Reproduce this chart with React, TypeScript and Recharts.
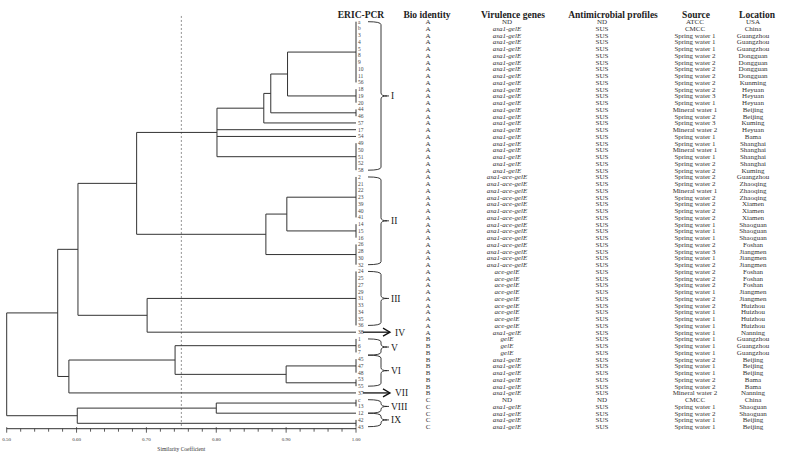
import { ScatterChart, Scatter, XAxis, YAxis, ReferenceLine, ReferenceArea } from 'recharts';

const FONT = 'Liberation Serif';

// leaf labels, top to bottom
const leafLabels = [
  'a', 'b', '3', '4', '5', '8', '9', '10', '11', '56', '18', '19', '20', '44', '46', '57', '17', '54', '49', '50', '51', '52', '58',
  '2', '21', '22', '23', '39', '40', '41', '14', '15', '16', '26', '28', '30', '32',
  '24', '25', '27', '29', '31', '33', '34', '35', '36',
  '38',
  '1', '6', '7', '45', '47', '48', '53', '55', '37',
  'c', '13', '12', '42', '43',
];

const bioIdentity = [
  'A', 'A', 'A', 'A', 'A', 'A', 'A', 'A', 'A', 'A', 'A', 'A', 'A', 'A', 'A', 'A', 'A', 'A', 'A', 'A', 'A', 'A', 'A',
  'A', 'A', 'A', 'A', 'A', 'A', 'A', 'A', 'A', 'A', 'A', 'A', 'A', 'A',
  'A', 'A', 'A', 'A', 'A', 'A', 'A', 'A', 'A',
  'A',
  'B', 'B', 'B', 'B', 'B', 'B', 'B', 'B', 'B',
  'C', 'C', 'C', 'C', 'C',
];

const virulenceGenes = [
  'ND', 'asa1-gelE', 'asa1-gelE', 'asa1-gelE', 'asa1-gelE', 'asa1-gelE', 'asa1-gelE', 'asa1-gelE', 'asa1-gelE', 'asa1-gelE',
  'asa1-gelE', 'asa1-gelE', 'asa1-gelE', 'asa1-gelE', 'asa1-gelE', 'asa1-gelE', 'asa1-gelE', 'asa1-gelE', 'asa1-gelE',
  'asa1-gelE', 'asa1-gelE', 'asa1-gelE', 'asa1-gelE',
  'asa1-ace-gelE', 'asa1-ace-gelE', 'asa1-ace-gelE', 'asa1-ace-gelE', 'asa1-ace-gelE', 'asa1-ace-gelE', 'asa1-ace-gelE',
  'asa1-ace-gelE', 'asa1-ace-gelE', 'asa1-ace-gelE', 'asa1-ace-gelE', 'asa1-ace-gelE', 'asa1-ace-gelE', 'asa1-ace-gelE',
  'ace-gelE', 'ace-gelE', 'ace-gelE', 'ace-gelE', 'ace-gelE', 'ace-gelE', 'ace-gelE', 'ace-gelE', 'ace-gelE',
  'asa1-gelE',
  'gelE', 'gelE', 'gelE', 'asa1-gelE', 'asa1-gelE', 'asa1-gelE', 'asa1-gelE', 'asa1-gelE', 'asa1-gelE',
  'ND', 'asa1-gelE', 'asa1-gelE', 'asa1-gelE', 'asa1-gelE',
];

const antimicrobial = [
  'ND', 'SUS', 'SUS', 'SUS', 'SUS', 'SUS', 'SUS', 'SUS', 'SUS', 'SUS', 'SUS', 'SUS', 'SUS', 'SUS', 'SUS', 'SUS', 'SUS', 'SUS', 'SUS', 'SUS', 'SUS', 'SUS', 'SUS',
  'SUS', 'SUS', 'SUS', 'SUS', 'SUS', 'SUS', 'SUS', 'SUS', 'SUS', 'SUS', 'SUS', 'SUS', 'SUS', 'SUS',
  'SUS', 'SUS', 'SUS', 'SUS', 'SUS', 'SUS', 'SUS', 'SUS', 'SUS',
  'SUS',
  'SUS', 'SUS', 'SUS', 'SUS', 'SUS', 'SUS', 'SUS', 'SUS', 'SUS',
  'ND', 'SUS', 'SUS', 'SUS', 'SUS',
];

const sources = [
  'ATCC', 'CMCC', 'Spring water 1', 'Spring water 1', 'Spring water 1', 'Spring water 2', 'Spring water 2', 'Spring water 2',
  'Spring water 2', 'Spring water 2', 'Spring water 2', 'Spring water 3', 'Spring water 1', 'Mineral water 1', 'Spring water 2',
  'Spring water 3', 'Mineral water 2', 'Spring water 1', 'Spring water 1', 'Mineral water 1', 'Spring water 1', 'Spring water 2',
  'Spring water 2',
  'Spring water 2', 'Spring water 2', 'Mineral water 1', 'Spring water 2', 'Spring water 2', 'Spring water 2', 'Spring water 2',
  'Spring water 1', 'Spring water 1', 'Spring water 1', 'Spring water 2', 'Spring water 3', 'Spring water 1', 'Spring water 2',
  'Spring water 2', 'Spring water 2', 'Spring water 2', 'Spring water 1', 'Spring water 2', 'Spring water 2', 'Spring water 1',
  'Spring water 1', 'Spring water 1',
  'Spring water 1',
  'Spring water 1', 'Spring water 1', 'Spring water 1', 'Spring water 2', 'Spring water 1', 'Spring water 1', 'Spring water 2',
  'Spring water 2', 'Mineral water 2',
  'CMCC', 'Spring water 1', 'Spring water 2', 'Spring water 1', 'Spring water 1',
];

const locations = [
  'USA', 'China', 'Guangzhou', 'Guangzhou', 'Guangzhou', 'Dongguan', 'Dongguan', 'Dongguan', 'Dongguan', 'Kunming', 'Heyuan',
  'Heyuan', 'Heyuan', 'Beijing', 'Beijing', 'Kuming', 'Heyuan', 'Bama', 'Shanghai', 'Shanghai', 'Shanghai', 'Shanghai', 'Kuming',
  'Guangzhou', 'Zhaoqing', 'Zhaoqing', 'Zhaoqing', 'Xiamen', 'Xiamen', 'Xiamen', 'Shaoguan', 'Shaoguan', 'Shaoguan', 'Foshan',
  'Jiangmen', 'Jiangmen', 'Jiangmen',
  'Foshan', 'Foshan', 'Foshan', 'Jiangmen', 'Jiangmen', 'Huizhou', 'Huizhou', 'Huizhou', 'Huizhou',
  'Nanning',
  'Guangzhou', 'Guangzhou', 'Guangzhou', 'Beijing', 'Beijing', 'Beijing', 'Bama', 'Bama', 'Nanning',
  'China', 'Shaoguan', 'Shaoguan', 'Beijing', 'Beijing',
];

const headers = ['ERIC-PCR', 'Bio identity', 'Virulence genes', 'Antimicrobial profiles', 'Source', 'Location'];

// groups of identical profiles (similarity 1.00), first and last row
const leafGroups: [number, number][] = [
  [0, 9], [10, 12], [13, 14], [15, 15], [16, 16], [17, 17], [18, 22],
  [23, 29], [30, 32], [33, 36], [37, 45], [46, 46],
  [47, 49], [50, 52], [53, 54], [55, 55],
  [56, 57], [58, 58], [59, 60],
];

// internal nodes of the UPGMA tree
const nodeSimilarity = [0.902, 0.878, 0.868, 0.801, 0.901, 0.871, 0.686, 0.701, 0.602, 0.9, 0.741, 0.589, 0.573, 0.8, 0.601, 0.5];
const nodeChildren = [
  ['g0', 'g1'], ['n0', 'g2'], ['n1', 'g3'], ['n2', 'g4', 'g5', 'g6'],
  ['g7', 'g8'], ['n4', 'g9'], ['n3', 'n5'], ['g10', 'g11'], ['n6', 'n7'],
  ['g13', 'g14'], ['g12', 'n9'], ['n10', 'g15'], ['n8', 'n11'],
  ['g16', 'g17'], ['n13', 'g18'], ['n12', 'n14'],
];

const clusterNames = ['I', 'II', 'III', 'V', 'VI', 'VIII', 'IX'];
const clusterRows: [number, number][] = [[0, 22], [23, 36], [37, 45], [47, 49.4], [49.4, 54], [56, 58], [58, 60]];
const arrowNames = ['IV', 'VII'];
const arrowRows = [46, 55];

const majorTicks = [0.5, 0.6, 0.7, 0.8, 0.9, 1.0];
const allTicks = [
  0.5, 0.52, 0.54, 0.56, 0.58, 0.6, 0.62, 0.64, 0.66, 0.68, 0.7, 0.72, 0.74, 0.76, 0.78,
  0.8, 0.82, 0.84, 0.86, 0.88, 0.9, 0.92, 0.94, 0.96, 0.98, 1.0,
];

type Pt = { x: number; y: number };
const pos: Record<string, Pt> = {};
const segments: [Pt, Pt][] = [];
leafGroups.forEach(([a, b], i) => {
  pos['g' + i] = { x: 1, y: (a + b) / 2 };
  if (b > a) segments.push([{ x: 1, y: a }, { x: 1, y: b }]);
});
nodeChildren.forEach((ch, i) => {
  const s = nodeSimilarity[i];
  const ys = ch.map((c) => pos[c].y);
  const top = Math.min(...ys);
  const bot = Math.max(...ys);
  pos['n' + i] = { x: s, y: (top + bot) / 2 };
  segments.push([{ x: s, y: top }, { x: s, y: bot }]);
  ch.forEach((c) => segments.push([{ x: pos[c].x, y: pos[c].y }, { x: s, y: pos[c].y }]));
});

const rows = leafLabels.map((label, i) => ({
  x: 1,
  y: i,
  label,
  bio: bioIdentity[i],
  gene: virulenceGenes[i],
  anti: antimicrobial[i],
  source: sources[i],
  location: locations[i],
}));
const arrows = arrowRows.map((r, i) => ({ x: 1, y: r, name: arrowNames[i] }));

const colX = [361, 428, 507, 602, 695, 753];

const RowText = (p: any) => {
  const { cx, cy, payload } = p;
  const y = cy + 2.4;
  const t = { fontFamily: FONT, fontSize: 7, fill: '#333', textAnchor: 'middle' as const };
  return (
    <g>
      <text x={cx + 2} y={cy + 2} fontFamily={FONT} fontSize={5.5} fill="#444">{payload.label}</text>
      <text x={colX[1]} y={y} {...t}>{payload.bio}</text>
      <text x={colX[2]} y={y} {...t} fontStyle={payload.gene === 'ND' ? 'normal' : 'italic'}>{payload.gene}</text>
      <text x={colX[3]} y={y} {...t}>{payload.anti}</text>
      <text x={colX[4]} y={y} {...t}>{payload.source}</text>
      <text x={colX[5]} y={y} {...t}>{payload.location}</text>
    </g>
  );
};

const ArrowMark = (p: any) => {
  const { cx, cy, payload } = p;
  const x0 = cx + 7;
  const x1 = cx + 34;
  return (
    <g>
      <line x1={x0} y1={cy} x2={x1} y2={cy} stroke="#111" strokeWidth={1.3} />
      <polyline points={`${x1 - 7},${cy - 4} ${x1},${cy} ${x1 - 7},${cy + 4}`} fill="none" stroke="#111" strokeWidth={1.3} />
      <text x={cx + 39} y={cy + 3.5} fontFamily={FONT} fontSize={9.5} fill="#222">{payload.name}</text>
    </g>
  );
};

const makeBrace = (name: string) => (p: any) => {
  const right = p.x + p.width;
  const top = p.y;
  const bot = p.y + p.height;
  const mid = (top + bot) / 2;
  const ax = right + 12;
  const sx = right + 25;
  const tx = right + 31;
  const r = 3;
  const d = `M${ax},${top} Q${sx},${top} ${sx},${top + r} L${sx},${mid - r} Q${sx},${mid} ${tx},${mid} M${tx},${mid} Q${sx},${mid} ${sx},${mid + r} L${sx},${bot - r} Q${sx},${bot} ${ax},${bot}`;
  return (
    <g>
      <path d={d} fill="none" stroke="#222" strokeWidth={0.9} />
      <line x1={tx} y1={mid} x2={tx + 2} y2={mid} stroke="#222" strokeWidth={0.9} />
      <text x={tx + 4} y={mid + 3.5} fontFamily={FONT} fontSize={9.5} fill="#222">{name}</text>
    </g>
  );
};

const AxisTick = (p: any) => {
  const { x, y, payload } = p;
  const major = majorTicks.includes(payload.value);
  return (
    <g>
      <line x1={x} x2={x} y1={major ? y - 1.5 : y} y2={major ? y + 4 : y + 3} stroke="#333" strokeWidth={0.8} />
      {major && (
        <text x={x} y={y + 12} textAnchor="middle" fontFamily={FONT} fontSize={5} fill="#333">
          {payload.value.toFixed(2)}
        </text>
      )}
    </g>
  );
};

export default function App() {
  return (
    <div style={{ position: 'absolute', left: 0, top: 0, width: 787, height: 455, background: '#fff' }}>
      <ScatterChart width={787} height={455} margin={{ top: 21.7, right: 431, bottom: 0, left: 6.7 }}>
        <XAxis
          type="number"
          dataKey="x"
          domain={[0.5, 1]}
          ticks={allTicks}
          interval={0}
          tick={<AxisTick />}
          tickLine={false}
          tickSize={0}
          tickMargin={0}
          axisLine={{ stroke: '#333', strokeWidth: 1 }}
          height={26.3}
          label={{ value: 'Similarity Coefficient', position: 'insideBottom', offset: 4, fontSize: 5.5, fontFamily: FONT, fill: '#333' }}
        />
        <YAxis type="number" dataKey="y" domain={[0, 60.3]} reversed hide width={0} />
        <ReferenceLine
          segment={[{ x: 0.75, y: -0.85 }, { x: 0.75, y: 60.3 }]}
          stroke="#777"
          strokeDasharray="2 2"
          strokeWidth={0.8}
          ifOverflow="visible"
        />
        {segments.map((s, i) => (
          <ReferenceLine key={i} segment={s} stroke="#333" strokeWidth={1} ifOverflow="visible" />
        ))}
        {clusterNames.map((n, i) => (
          <ReferenceArea
            key={n}
            x1={0.99}
            x2={1}
            y1={clusterRows[i][0]}
            y2={clusterRows[i][1]}
            ifOverflow="visible"
            shape={makeBrace(n)}
          />
        ))}
        <Scatter data={rows} shape={<RowText />} isAnimationActive={false} />
        <Scatter data={arrows} shape={<ArrowMark />} isAnimationActive={false} />
      </ScatterChart>
      <svg width={787} height={24} style={{ position: 'absolute', left: 0, top: 0, pointerEvents: 'none' }}>
        {headers.map((h, i) => (
          <text key={h} x={[361, 427, 513, 613, 696, 757][i]} y={17.5} textAnchor="middle" fontFamily={FONT} fontWeight="bold" fontSize={9.5} fill="#222">
            {h}
          </text>
        ))}
      </svg>
    </div>
  );
}
